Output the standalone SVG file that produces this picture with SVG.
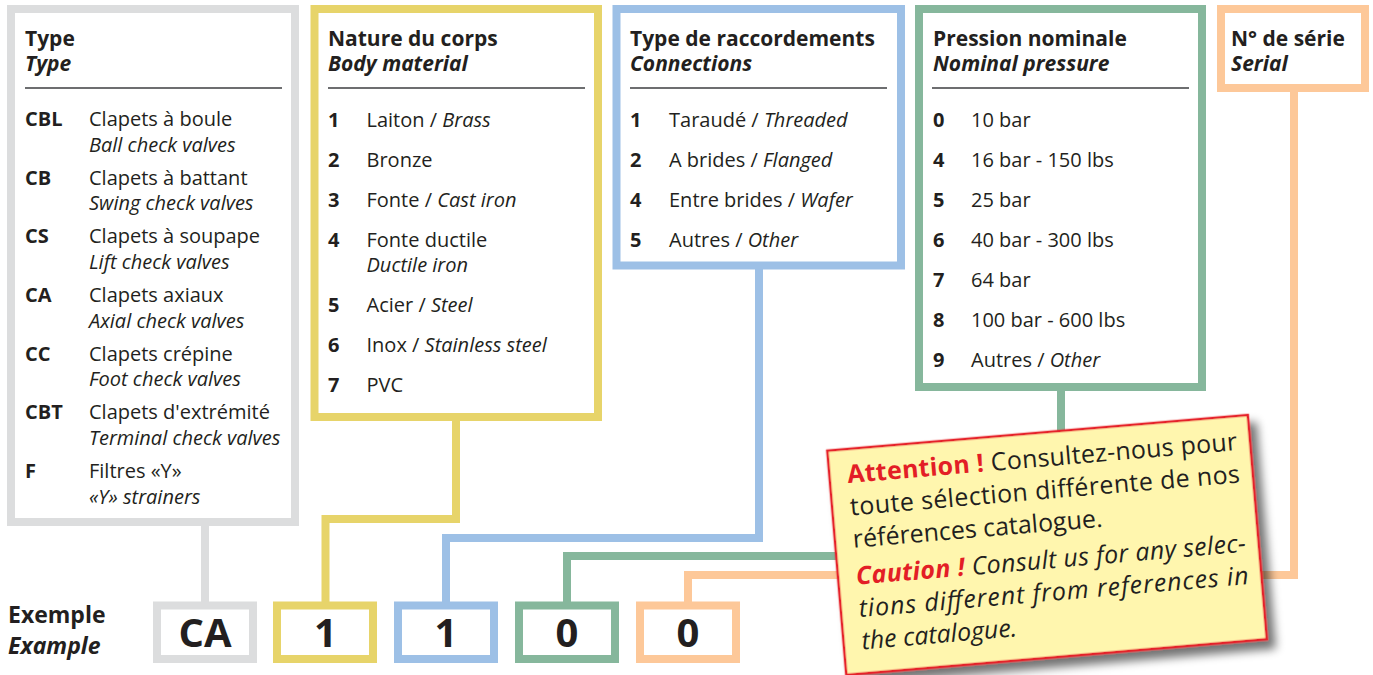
<svg xmlns="http://www.w3.org/2000/svg" width="1373" height="675" viewBox="0 0 1373 675">
<style>
text{font-family:"Open Sans","Noto Sans","Liberation Sans",sans-serif;fill:#231F20}
.h{font-size:21px;font-weight:700}
.b{font-size:20px}
.i{font-style:italic}
.k{font-size:20px;font-weight:700}
.big{font-size:40px;font-weight:700;text-anchor:middle}
.ex{font-size:23px;font-weight:700}
.frame{fill:#fff;stroke-width:8}
.sep{stroke:#6D6E70;stroke-width:2}
.gray{stroke:#DCDDDE}.yel{stroke:#E7D46A}.blu{stroke:#9DC0E6}.grn{stroke:#86B79C}.ora{stroke:#FDC899}
.conn path{fill:none;stroke-width:8;stroke-linejoin:miter}
.nt{font-size:25px}
.red{fill:#E31E26;font-weight:700}
</style>
<defs>
<filter id="shadow" x="-10%" y="-10%" width="130%" height="140%">
<feGaussianBlur in="SourceAlpha" stdDeviation="5"/>
<feOffset dx="7" dy="9" result="o"/>
<feComponentTransfer><feFuncA type="linear" slope="0.55"/></feComponentTransfer>
<feMerge><feMergeNode/><feMergeNode in="SourceGraphic"/></feMerge>
</filter>
</defs>
<rect width="1373" height="675" fill="#fff"/>

<g class="conn" id="connectors">
<path class="gray" d="M205 522V606"/>
<path class="yel" d="M456 417V519H325.5V606"/>
<path class="blu" d="M759 265V538H446V606"/>
<path class="grn" d="M1061 387V556H567V606"/>
<path class="ora" d="M1294 88V575H688V606"/>
</g>

<g id="box-type">
<rect class="frame gray" x="11" y="9" width="284" height="513"/>
<text class="h" x="25" y="46">Type<tspan class="i" x="25" y="71">Type</tspan></text>
<line class="sep" x1="25" y1="88" x2="282" y2="88"/>
<text class="k" x="25" y="126">CBL</text><text class="b" x="89" y="126">Clapets à boule</text><text class="b i" x="89" y="151.7">Ball check valves</text>
<text class="k" x="25" y="184.7">CB</text><text class="b" x="89" y="184.7">Clapets à battant</text><text class="b i" x="89" y="210.4">Swing check valves</text>
<text class="k" x="25" y="243.3">CS</text><text class="b" x="89" y="243.3">Clapets à soupape</text><text class="b i" x="89" y="269">Lift check valves</text>
<text class="k" x="25" y="302">CA</text><text class="b" x="89" y="302">Clapets axiaux</text><text class="b i" x="89" y="327.7">Axial check valves</text>
<text class="k" x="25" y="360.7">CC</text><text class="b" x="89" y="360.7">Clapets crépine</text><text class="b i" x="89" y="386.4">Foot check valves</text>
<text class="k" x="25" y="419.3">CBT</text><text class="b" x="89" y="419.3">Clapets d'extrémité</text><text class="b i" x="89" y="445">Terminal check valves</text>
<text class="k" x="25" y="478">F</text><text class="b" x="89" y="478">Filtres «Y»</text><text class="b i" x="89" y="503.7">«Y» strainers</text>
</g>

<g id="box-body">
<rect class="frame yel" x="314.5" y="9" width="283.5" height="408"/>
<text class="h" x="328" y="46">Nature du corps<tspan class="i" x="328" y="71">Body material</tspan></text>
<line class="sep" x1="328" y1="88" x2="585" y2="88"/>
<text class="k" x="328" y="126.5">1</text><text class="b" x="366.5" y="126.5">Laiton / <tspan class="i">Brass</tspan></text>
<text class="k" x="328" y="166.5">2</text><text class="b" x="366.5" y="166.5">Bronze</text>
<text class="k" x="328" y="206.5">3</text><text class="b" x="366.5" y="206.5">Fonte / <tspan class="i">Cast iron</tspan></text>
<text class="k" x="328" y="246.5">4</text><text class="b" x="366.5" y="246.5">Fonte ductile</text><text class="b i" x="366.5" y="272">Ductile iron</text>
<text class="k" x="328" y="311.5">5</text><text class="b" x="366.5" y="311.5">Acier / <tspan class="i">Steel</tspan></text>
<text class="k" x="328" y="351.5">6</text><text class="b" x="366.5" y="351.5">Inox / <tspan class="i">Stainless steel</tspan></text>
<text class="k" x="328" y="391.5">7</text><text class="b" x="366.5" y="391.5">PVC</text>
</g>

<g id="box-connections">
<rect class="frame blu" x="616.5" y="9" width="284.5" height="256.5"/>
<text class="h" x="630" y="46">Type de raccordements<tspan class="i" x="630" y="71">Connections</tspan></text>
<line class="sep" x1="630" y1="88" x2="887" y2="88"/>
<text class="k" x="630" y="126.5">1</text><text class="b" x="669" y="126.5">Taraudé / <tspan class="i">Threaded</tspan></text>
<text class="k" x="630" y="166.5">2</text><text class="b" x="669" y="166.5">A brides / <tspan class="i">Flanged</tspan></text>
<text class="k" x="630" y="206.5">4</text><text class="b" x="669" y="206.5">Entre brides / <tspan class="i">Wafer</tspan></text>
<text class="k" x="630" y="246.5">5</text><text class="b" x="669" y="246.5">Autres / <tspan class="i">Other</tspan></text>
</g>

<g id="box-pressure">
<rect class="frame grn" x="919" y="9" width="283" height="378"/>
<text class="h" x="933" y="46">Pression nominale<tspan class="i" x="933" y="71">Nominal pressure</tspan></text>
<line class="sep" x1="932" y1="88" x2="1189" y2="88"/>
<text class="k" x="933" y="126.5">0</text><text class="b" x="971" y="126.5">10 bar</text>
<text class="k" x="933" y="166.5">4</text><text class="b" x="971" y="166.5">16 bar - 150 lbs</text>
<text class="k" x="933" y="206.5">5</text><text class="b" x="971" y="206.5">25 bar</text>
<text class="k" x="933" y="246.5">6</text><text class="b" x="971" y="246.5">40 bar - 300 lbs</text>
<text class="k" x="933" y="286.5">7</text><text class="b" x="971" y="286.5">64 bar</text>
<text class="k" x="933" y="326.5">8</text><text class="b" x="971" y="326.5">100 bar - 600 lbs</text>
<text class="k" x="933" y="366.5">9</text><text class="b" x="971" y="366.5">Autres / <tspan class="i">Other</tspan></text>
</g>

<g id="box-serial">
<rect class="frame ora" x="1221" y="9" width="144" height="79"/>
<text class="h" x="1231" y="46">N° de série<tspan class="i" x="1231" y="71">Serial</tspan></text>
</g>

<g id="example-label">
<text class="ex" x="8" y="623">Exemple<tspan class="i" x="8" y="654">Example</tspan></text>
</g>
<g id="ex-ca"><rect class="frame gray" x="157" y="605.5" width="96" height="53.5" stroke-width="7.5"/><text class="big" x="205" y="647">CA</text></g>
<g id="ex-body"><rect class="frame yel" x="277" y="605.5" width="96" height="53.5" stroke-width="7.5"/><text class="big" x="325.5" y="647">1</text></g>
<g id="ex-conn"><rect class="frame blu" x="398" y="605.5" width="96" height="53.5" stroke-width="7.5"/><text class="big" x="446" y="647">1</text></g>
<g id="ex-press"><rect class="frame grn" x="519" y="605.5" width="96" height="53.5" stroke-width="7.5"/><text class="big" x="567" y="647">0</text></g>
<g id="ex-serial"><rect class="frame ora" x="640" y="605.5" width="96" height="53.5" stroke-width="7.5"/><text class="big" x="688" y="647">0</text></g>

<g id="note" transform="translate(827.3 450.7) rotate(-4.85)">
<rect x="0" y="0" width="422" height="225" fill="#FFF6AE" stroke="#E52229" stroke-width="2.5" filter="url(#shadow)"/>
<text class="nt" x="18" y="34" textLength="391" lengthAdjust="spacing"><tspan class="red">Attention !</tspan> Consultez-nous pour</text>
<text class="nt" x="18" y="66.5" textLength="391" lengthAdjust="spacing">toute sélection différente de nos</text>
<text class="nt" x="18" y="99">références catalogue.</text>
<text class="nt i" x="18" y="136" textLength="391" lengthAdjust="spacing"><tspan class="red">Caution !</tspan> Consult us for any selec-</text>
<text class="nt i" x="18" y="168.5" textLength="391" lengthAdjust="spacing">tions different from references in</text>
<text class="nt i" x="18" y="201">the catalogue.</text>
</g>
</svg>
